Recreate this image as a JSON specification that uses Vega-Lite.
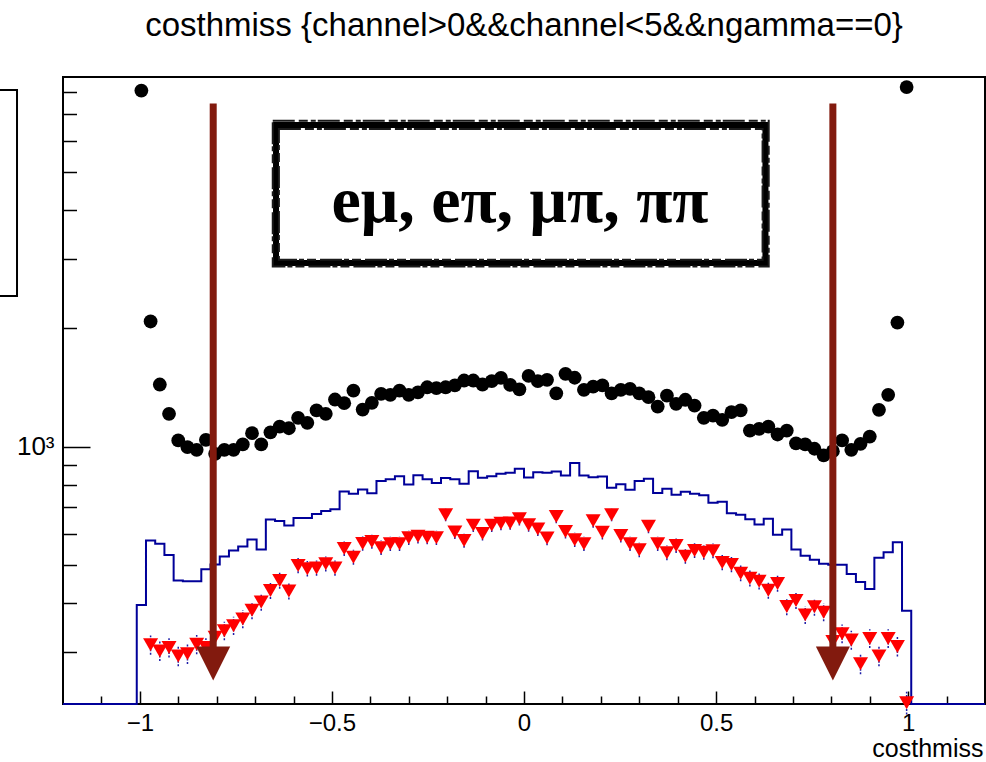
{
  "$schema": "https://vega.github.io/schema/vega-lite/v6.json",
  "width": 922,
  "height": 627,
  "autosize": "none",
  "padding": {"left": 63, "top": 77, "right": 1, "bottom": 58},
  "background": "white",
  "config": {"view": {"stroke": "black", "strokeWidth": 2}, "font": "Liberation Sans"},
  "title": {"text": "costhmiss {channel>0&&channel<5&&ngamma==0}", "fontSize": 33, "font": "Liberation Sans", "fontWeight": "normal", "anchor": "middle", "baseline": "alphabetic", "offset": 8, "color": "black"},
  "resolve": {"axis": {"x": "independent", "y": "independent"}},
  "datasets": {
    "bins": [
      {"x": -0.996, "d": 8045},
      {"x": -0.972, "d": 2080, "r": 313, "e": 17.7},
      {"x": -0.948, "d": 1438, "r": 302, "e": 17.4},
      {"x": -0.924, "d": 1211, "r": 308, "e": 17.5},
      {"x": -0.900, "d": 1036, "r": 293, "e": 17.1},
      {"x": -0.876, "d": 996, "r": 297, "e": 17.2},
      {"x": -0.852, "d": 981, "r": 314, "e": 17.7},
      {"x": -0.828, "d": 1040, "r": 308, "e": 17.5},
      {"x": -0.804, "d": 958, "r": 327, "e": 18.1},
      {"x": -0.780, "d": 981, "r": 340, "e": 18.4},
      {"x": -0.756, "d": 981, "r": 350, "e": 18.7},
      {"x": -0.732, "d": 1012, "r": 364, "e": 19.1},
      {"x": -0.708, "d": 1081, "r": 383, "e": 19.6},
      {"x": -0.684, "d": 1012, "r": 402, "e": 20.0},
      {"x": -0.660, "d": 1087, "r": 430, "e": 20.7},
      {"x": -0.636, "d": 1124, "r": 456, "e": 21.4},
      {"x": -0.612, "d": 1113, "r": 429, "e": 20.7},
      {"x": -0.588, "d": 1183, "r": 498, "e": 22.3},
      {"x": -0.564, "d": 1149, "r": 489, "e": 22.1},
      {"x": -0.540, "d": 1235, "r": 491, "e": 22.2},
      {"x": -0.516, "d": 1211, "r": 503, "e": 22.4},
      {"x": -0.492, "d": 1317, "r": 491, "e": 22.2},
      {"x": -0.468, "d": 1289, "r": 550, "e": 23.5},
      {"x": -0.444, "d": 1388, "r": 523, "e": 22.9},
      {"x": -0.420, "d": 1242, "r": 567, "e": 23.8},
      {"x": -0.396, "d": 1292, "r": 573, "e": 23.9},
      {"x": -0.372, "d": 1362, "r": 553, "e": 23.5},
      {"x": -0.348, "d": 1354, "r": 566, "e": 23.8},
      {"x": -0.324, "d": 1388, "r": 566, "e": 23.8},
      {"x": -0.300, "d": 1354, "r": 586, "e": 24.2},
      {"x": -0.276, "d": 1374, "r": 591, "e": 24.3},
      {"x": -0.252, "d": 1415, "r": 588, "e": 24.2},
      {"x": -0.228, "d": 1407, "r": 586, "e": 24.2},
      {"x": -0.204, "d": 1415, "r": 671, "e": 25.9},
      {"x": -0.180, "d": 1430, "r": 606, "e": 24.6},
      {"x": -0.156, "d": 1472, "r": 577, "e": 24.0},
      {"x": -0.132, "d": 1472, "r": 631, "e": 25.1},
      {"x": -0.108, "d": 1438, "r": 601, "e": 24.5},
      {"x": -0.084, "d": 1466, "r": 631, "e": 25.1},
      {"x": -0.060, "d": 1494, "r": 638, "e": 25.3},
      {"x": -0.036, "d": 1434, "r": 639, "e": 25.3},
      {"x": -0.012, "d": 1398, "r": 655, "e": 25.6},
      {"x": 0.012, "d": 1512, "r": 632, "e": 25.1},
      {"x": 0.036, "d": 1466, "r": 617, "e": 24.8},
      {"x": 0.060, "d": 1478, "r": 585, "e": 24.2},
      {"x": 0.084, "d": 1366, "r": 664, "e": 25.8},
      {"x": 0.108, "d": 1531, "r": 608, "e": 24.7},
      {"x": 0.132, "d": 1496, "r": 579, "e": 24.1},
      {"x": 0.156, "d": 1394, "r": 566, "e": 23.8},
      {"x": 0.180, "d": 1421, "r": 647, "e": 25.4},
      {"x": 0.204, "d": 1430, "r": 605, "e": 24.6},
      {"x": 0.228, "d": 1366, "r": 671, "e": 25.9},
      {"x": 0.252, "d": 1394, "r": 594, "e": 24.4},
      {"x": 0.276, "d": 1402, "r": 566, "e": 23.8},
      {"x": 0.300, "d": 1366, "r": 546, "e": 23.4},
      {"x": 0.324, "d": 1335, "r": 627, "e": 25.0},
      {"x": 0.348, "d": 1264, "r": 566, "e": 23.8},
      {"x": 0.372, "d": 1348, "r": 537, "e": 23.2},
      {"x": 0.396, "d": 1284, "r": 560, "e": 23.7},
      {"x": 0.420, "d": 1315, "r": 526, "e": 22.9},
      {"x": 0.444, "d": 1271, "r": 544, "e": 23.3},
      {"x": 0.468, "d": 1183, "r": 538, "e": 23.2},
      {"x": 0.492, "d": 1199, "r": 543, "e": 23.3},
      {"x": 0.516, "d": 1169, "r": 507, "e": 22.5},
      {"x": 0.540, "d": 1223, "r": 501, "e": 22.4},
      {"x": 0.564, "d": 1235, "r": 476, "e": 21.8},
      {"x": 0.588, "d": 1098, "r": 462, "e": 21.5},
      {"x": 0.612, "d": 1109, "r": 454, "e": 21.3},
      {"x": 0.636, "d": 1124, "r": 431, "e": 20.8},
      {"x": 0.660, "d": 1073, "r": 448, "e": 21.2},
      {"x": 0.684, "d": 1098, "r": 392, "e": 19.8},
      {"x": 0.708, "d": 1019, "r": 406, "e": 20.1},
      {"x": 0.732, "d": 1012, "r": 373, "e": 19.3},
      {"x": 0.756, "d": 987, "r": 391, "e": 19.8},
      {"x": 0.780, "d": 949, "r": 379, "e": 19.5},
      {"x": 0.804, "d": 973, "r": 319, "e": 17.9},
      {"x": 0.828, "d": 1036, "r": 334, "e": 18.3},
      {"x": 0.852, "d": 981, "r": 322, "e": 17.9},
      {"x": 0.876, "d": 1016, "r": 280, "e": 16.7},
      {"x": 0.900, "d": 1060, "r": 325, "e": 18.0},
      {"x": 0.924, "d": 1240, "r": 293, "e": 17.1},
      {"x": 0.948, "d": 1354, "r": 325, "e": 18.0},
      {"x": 0.972, "d": 2067, "r": 310, "e": 17.6},
      {"x": 0.996, "d": 8213, "r": 223, "e": 14.9}
    ],
    "mc": [
      {"x": -1.2, "m": 221.3},
      {"x": -1.008, "m": 395}, {"x": -0.984, "m": 577}, {"x": -0.960, "m": 566}, {"x": -0.936, "m": 530},
      {"x": -0.912, "m": 456}, {"x": -0.888, "m": 454}, {"x": -0.864, "m": 454}, {"x": -0.840, "m": 487},
      {"x": -0.816, "m": 501}, {"x": -0.792, "m": 525}, {"x": -0.768, "m": 544}, {"x": -0.744, "m": 557},
      {"x": -0.720, "m": 580}, {"x": -0.696, "m": 547}, {"x": -0.672, "m": 652}, {"x": -0.648, "m": 646},
      {"x": -0.624, "m": 630}, {"x": -0.600, "m": 658}, {"x": -0.576, "m": 658}, {"x": -0.552, "m": 673},
      {"x": -0.528, "m": 685}, {"x": -0.504, "m": 692}, {"x": -0.480, "m": 768}, {"x": -0.456, "m": 758},
      {"x": -0.432, "m": 777}, {"x": -0.408, "m": 760}, {"x": -0.384, "m": 817}, {"x": -0.360, "m": 826},
      {"x": -0.336, "m": 840}, {"x": -0.312, "m": 800}, {"x": -0.288, "m": 845}, {"x": -0.264, "m": 826},
      {"x": -0.240, "m": 807}, {"x": -0.216, "m": 832}, {"x": -0.192, "m": 826}, {"x": -0.168, "m": 804},
      {"x": -0.144, "m": 865}, {"x": -0.120, "m": 833}, {"x": -0.096, "m": 840}, {"x": -0.072, "m": 852},
      {"x": -0.048, "m": 857}, {"x": -0.024, "m": 878}, {"x": 0.000, "m": 834}, {"x": 0.024, "m": 860},
      {"x": 0.048, "m": 858}, {"x": 0.072, "m": 864}, {"x": 0.096, "m": 844}, {"x": 0.120, "m": 908},
      {"x": 0.144, "m": 844}, {"x": 0.168, "m": 835}, {"x": 0.192, "m": 839}, {"x": 0.216, "m": 785},
      {"x": 0.240, "m": 802}, {"x": 0.264, "m": 776}, {"x": 0.288, "m": 817}, {"x": 0.312, "m": 828},
      {"x": 0.336, "m": 762}, {"x": 0.360, "m": 781}, {"x": 0.384, "m": 754}, {"x": 0.408, "m": 767},
      {"x": 0.432, "m": 758}, {"x": 0.456, "m": 752}, {"x": 0.480, "m": 719}, {"x": 0.504, "m": 724},
      {"x": 0.528, "m": 676}, {"x": 0.552, "m": 671}, {"x": 0.576, "m": 653}, {"x": 0.600, "m": 633},
      {"x": 0.624, "m": 655}, {"x": 0.648, "m": 596}, {"x": 0.672, "m": 615}, {"x": 0.696, "m": 547},
      {"x": 0.720, "m": 527}, {"x": 0.744, "m": 515}, {"x": 0.768, "m": 503}, {"x": 0.792, "m": 500},
      {"x": 0.816, "m": 500}, {"x": 0.840, "m": 474}, {"x": 0.864, "m": 452}, {"x": 0.888, "m": 434},
      {"x": 0.912, "m": 521}, {"x": 0.936, "m": 538}, {"x": 0.960, "m": 571}, {"x": 0.984, "m": 382},
      {"x": 1.008, "m": 221.3},
      {"x": 1.2, "m": 221.3}
    ],
    "arrows": [
      {"x": -0.809, "top": 7457, "base": 290, "head": 280.5},
      {"x": 0.804, "top": 7457, "base": 290, "head": 280.5}
    ],
    "boxes": [
      {"kind": "text", "x": -0.6455, "x2": 0.6285, "y": 6575, "y2": 2930},
      {"kind": "legend", "x": -1.6, "x2": -1.3197, "y": 8074, "y2": 2415}
    ],
    "rough": [
      {"x": -0.654, "x2": 0.637, "y": 6740, "y2": 2870},
      {"x": -0.638, "x2": 0.621, "y": 6420, "y2": 2985}
    ],
    "labels": [
      {"x": -0.0105, "y": 3721, "t": "eμ, eπ, μπ, ππ"}
    ]
  },
  "layer": [
    {
      "data": {"name": "mc"},
      "mark": {"type": "line", "interpolate": "step-after", "color": "#000099", "strokeWidth": 2},
      "encoding": {
        "x": {"field": "x", "type": "quantitative", "scale": {"domain": [-1.2, 1.2], "nice": false, "zero": false},
          "axis": {"orient": "bottom", "values": [-1, -0.5, 0, 0.5, 1], "format": "~g", "ticks": false, "domain": false, "grid": false,
            "labelFontSize": 24, "labelPadding": 7, "labelColor": "black", "labelFont": "Liberation Sans", "labelFlush": false, "labelOverlap": false,
            "title": "costhmiss", "titleFontSize": 25, "titleFontWeight": "normal", "titleFont": "Liberation Sans", "titleColor": "black",
            "titleAnchor": "end", "titleAlign": "right", "titleBaseline": "alphabetic", "titleX": 920, "titleY": 52}},
        "y": {"field": "m", "type": "quantitative", "scale": {"type": "log", "domain": [221.3, 8710], "nice": false, "zero": false},
          "axis": {"orient": "left", "values": [1000], "labelExpr": "'10³'", "ticks": false, "domain": false, "grid": false,
            "labelFontSize": 26, "labelPadding": 9, "labelColor": "black", "labelFont": "Liberation Sans", "title": null}}
      }
    },
    {
      "data": {"name": "bins"},
      "mark": {"type": "circle", "size": 190, "color": "black", "opacity": 1},
      "encoding": {
        "x": {"field": "x", "type": "quantitative", "scale": {"domain": [-1.2, 1.2], "nice": false, "zero": false},
          "axis": {"orient": "bottom", "values": [-1, -0.5, 0, 0.5, 1], "labels": false, "domain": false, "grid": false,
            "tickSize": -13, "tickWidth": 1.5, "tickColor": "black", "title": null}},
        "y": {"field": "d", "type": "quantitative", "scale": {"type": "log", "domain": [221.3, 8710], "nice": false, "zero": false},
          "axis": {"orient": "left", "values": [1000], "labels": false, "domain": false, "grid": false,
            "tickSize": -27, "tickWidth": 1.5, "tickColor": "black", "title": null}}
      }
    },
    {
      "data": {"name": "bins"},
      "mark": {"type": "errorbar", "ticks": false, "color": "#1c1ca8", "thickness": 1.5, "rule": {"strokeDash": [2, 1.5]}},
      "encoding": {
        "x": {"field": "x", "type": "quantitative", "scale": {"domain": [-1.2, 1.2], "nice": false, "zero": false}, "axis": null},
        "y": {"field": "r", "type": "quantitative", "scale": {"type": "log", "domain": [221.3, 8710], "nice": false, "zero": false}, "axis": null},
        "yError": {"field": "e"}
      }
    },
    {
      "data": {"name": "bins"},
      "mark": {"type": "point", "shape": "triangle-down", "filled": true, "size": 225, "color": "#ff0000", "opacity": 1},
      "encoding": {
        "x": {"field": "x", "type": "quantitative", "scale": {"domain": [-1.2, 1.2], "nice": false, "zero": false},
          "axis": {"orient": "bottom", "values": [-1.1, -0.9, -0.8, -0.7, -0.6, -0.4, -0.3, -0.2, -0.1, 0.1, 0.2, 0.3, 0.4, 0.6, 0.7, 0.8, 0.9, 1.1],
            "labels": false, "domain": false, "grid": false, "tickSize": -8, "tickWidth": 1.5, "tickColor": "black", "title": null}},
        "y": {"field": "r", "type": "quantitative", "scale": {"type": "log", "domain": [221.3, 8710], "nice": false, "zero": false},
          "axis": {"orient": "left", "values": [300, 400, 500, 600, 700, 800, 900, 2000, 3000, 4000, 5000, 6000, 7000, 8000],
            "labels": false, "domain": false, "grid": false, "tickSize": -13.5, "tickWidth": 1.5, "tickColor": "black", "title": null}}
      }
    },
    {
      "data": {"name": "arrows"},
      "mark": {"type": "rule", "color": "#821a0e", "strokeWidth": 7},
      "encoding": {
        "x": {"field": "x", "type": "quantitative", "scale": {"domain": [-1.2, 1.2], "nice": false, "zero": false}, "axis": null},
        "y": {"field": "top", "type": "quantitative", "scale": {"type": "log", "domain": [221.3, 8710], "nice": false, "zero": false}, "axis": null},
        "y2": {"field": "base"}
      }
    },
    {
      "data": {"name": "arrows"},
      "mark": {"type": "point", "shape": "M-1,-1L1,-1L0,1Z", "filled": true, "size": 1156, "color": "#821a0e", "opacity": 1},
      "encoding": {
        "x": {"field": "x", "type": "quantitative", "scale": {"domain": [-1.2, 1.2], "nice": false, "zero": false}, "axis": null},
        "y": {"field": "head", "type": "quantitative", "scale": {"type": "log", "domain": [221.3, 8710], "nice": false, "zero": false}, "axis": null}
      }
    },
    {
      "data": {"name": "boxes"},
      "transform": [{"filter": "datum.kind == 'legend'"}],
      "mark": {"type": "rect", "fill": "white", "stroke": "black", "strokeWidth": 2},
      "encoding": {
        "x": {"field": "x", "type": "quantitative", "scale": {"domain": [-1.2, 1.2], "nice": false, "zero": false}, "axis": null},
        "x2": {"field": "x2"},
        "y": {"field": "y", "type": "quantitative", "scale": {"type": "log", "domain": [221.3, 8710], "nice": false, "zero": false}, "axis": null},
        "y2": {"field": "y2"}
      }
    },
    {
      "data": {"name": "boxes"},
      "transform": [{"filter": "datum.kind == 'text'"}],
      "mark": {"type": "rect", "fill": "white", "stroke": "black", "strokeWidth": 6},
      "encoding": {
        "x": {"field": "x", "type": "quantitative", "scale": {"domain": [-1.2, 1.2], "nice": false, "zero": false}, "axis": null},
        "x2": {"field": "x2"},
        "y": {"field": "y", "type": "quantitative", "scale": {"type": "log", "domain": [221.3, 8710], "nice": false, "zero": false}, "axis": null},
        "y2": {"field": "y2"}
      }
    },
    {
      "data": {"name": "rough"},
      "mark": {"type": "rect", "fill": null, "fillOpacity": 0, "stroke": "#1a1a1a", "strokeWidth": 2, "strokeDash": [22, 4, 9, 3, 5, 2]},
      "encoding": {
        "x": {"field": "x", "type": "quantitative", "scale": {"domain": [-1.2, 1.2], "nice": false, "zero": false}, "axis": null},
        "x2": {"field": "x2"},
        "y": {"field": "y", "type": "quantitative", "scale": {"type": "log", "domain": [221.3, 8710], "nice": false, "zero": false}, "axis": null},
        "y2": {"field": "y2"}
      }
    },
    {
      "data": {"name": "labels"},
      "mark": {"type": "text", "font": "Liberation Serif", "fontWeight": "bold", "fontSize": 66, "align": "center", "baseline": "alphabetic", "color": "black"},
      "encoding": {
        "x": {"field": "x", "type": "quantitative", "scale": {"domain": [-1.2, 1.2], "nice": false, "zero": false}, "axis": null},
        "y": {"field": "y", "type": "quantitative", "scale": {"type": "log", "domain": [221.3, 8710], "nice": false, "zero": false}, "axis": null},
        "text": {"field": "t"}
      }
    }
  ]
}
